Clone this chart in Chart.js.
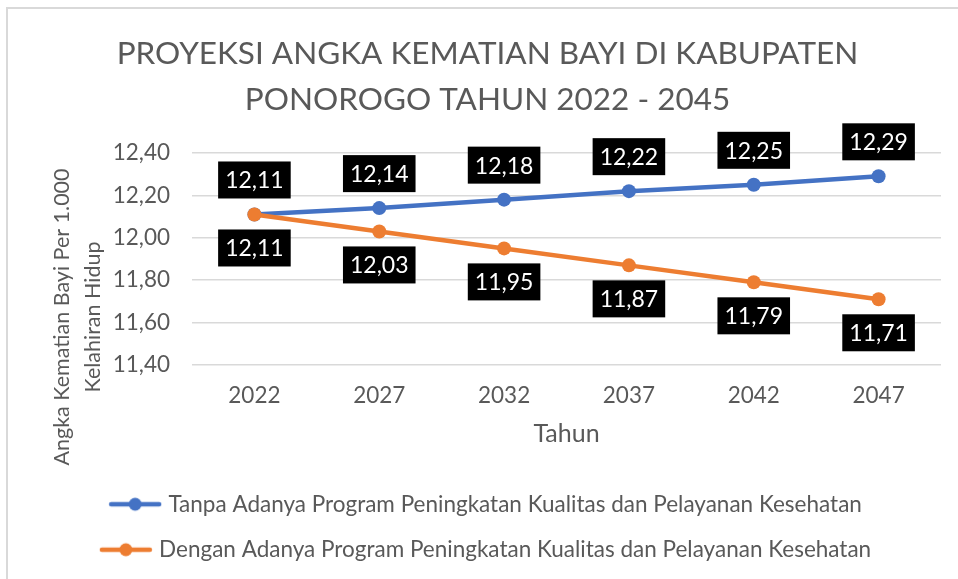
<!DOCTYPE html>
<html>
<head>
<meta charset="utf-8">
<script src="https://cdn.jsdelivr.net/npm/chart.js@4.4.1/dist/chart.umd.min.js"></script>
<style>
  html, body { margin: 0; padding: 0; background: #fff; }
  #wrap { position: relative; width: 958px; height: 579px; overflow: hidden; }
  #frame { position: absolute; left: 6px; top: 7px; width: 980px; height: 600px;
           border-left: 2px solid #d9d9d9; border-top: 2px solid #d9d9d9; pointer-events: none; }
</style>
</head>
<body>
<div id="wrap">
  <canvas id="chart" width="958" height="579"></canvas>
  <div id="frame"></div>
</div>
<script>
const years = ['2022', '2027', '2032', '2037', '2042', '2047'];
const tanpaProgram = [12.11, 12.14, 12.18, 12.22, 12.25, 12.29];
const denganProgram = [12.11, 12.03, 11.95, 11.87, 11.79, 11.71];
const seriesNames = [
  'Tanpa Adanya Program Peningkatan Kualitas dan Pelayanan Kesehatan',
  'Dengan Adanya Program Peningkatan Kualitas dan Pelayanan Kesehatan'
];
const titleLines = ['PROYEKSI ANGKA KEMATIAN BAYI DI KABUPATEN', 'PONOROGO TAHUN 2022 - 2045'];
const yTitleLines = ['Angka Kematian Bayi Per 1.000', 'Kelahiran Hidup'];
const xTitle = 'Tahun';
const yMin = 11.4, yMax = 12.4, yStep = 0.2;

const BLUE = '#4472c4', ORANGE = '#ed7d31', GREY = '#595959';
const FONT = 'Lato, "Open Sans", sans-serif';

const fmt = v => v.toFixed(2).replace('.', ',');

// legend marker drawn like excel: short line with a dot in the middle
function legendMarker(color) {
  const c = document.createElement('canvas');
  c.width = 54; c.height = 16;
  const g = c.getContext('2d');
  g.strokeStyle = color; g.lineWidth = 4.5; g.lineCap = 'round';
  g.beginPath(); g.moveTo(3, 8); g.lineTo(51, 8); g.stroke();
  g.fillStyle = color;
  g.beginPath(); g.arc(27, 8, 6.5, 0, Math.PI * 2); g.fill();
  return c;
}
const markers = [legendMarker(BLUE), legendMarker(ORANGE)];

// black boxes with white values, above the first series and below the second
const valueBoxes = {
  id: 'valueBoxes',
  afterDatasetsDraw(chart) {
    const ctx = chart.ctx;
    ctx.save();
    ctx.font = '23px ' + FONT;
    ctx.textAlign = 'center';
    ctx.textBaseline = 'middle';
    chart.data.datasets.forEach((ds, di) => {
      const meta = chart.getDatasetMeta(di);
      meta.data.forEach((pt, i) => {
        const text = fmt(ds.data[i]);
        const w = ctx.measureText(text).width + 14, h = 37;
        const top = di === 0 ? pt.y - 16 - h : pt.y + 15;
        ctx.fillStyle = '#000';
        ctx.fillRect(pt.x - w / 2, top, w, h);
        ctx.fillStyle = '#fff';
        ctx.fillText(text, pt.x, top + h / 2 + 1);
      });
    });
    ctx.restore();
  }
};

// y axis title sits lower than the plot middle in the original, so draw it here
const yAxisTitle = {
  id: 'yAxisTitle',
  afterDraw(chart) {
    const { ctx, chartArea } = chart;
    ctx.save();
    ctx.translate(chartArea.left - 130, chartArea.bottom - 48);
    ctx.rotate(-Math.PI / 2);
    ctx.font = '21.5px ' + FONT;
    ctx.fillStyle = GREY;
    ctx.textAlign = 'center';
    ctx.textBaseline = 'middle';
    yTitleLines.forEach((line, i) => ctx.fillText(line, 0, i * 31));
    ctx.restore();
  }
};

new Chart(document.getElementById('chart'), {
  type: 'line',
  data: {
    labels: years,
    datasets: [
      { label: seriesNames[0], data: tanpaProgram, borderColor: BLUE, backgroundColor: BLUE, order: 1 },
      { label: seriesNames[1], data: denganProgram, borderColor: ORANGE, backgroundColor: ORANGE, order: 0 }
    ]
  },
  options: {
    responsive: false,
    animation: false,
    layout: { padding: { left: 34, right: 17, top: 0, bottom: 8 } },
    elements: {
      line: { borderWidth: 4.5, tension: 0 },
      point: { radius: 7, hoverRadius: 7, borderWidth: 0 }
    },
    plugins: {
      title: {
        display: true,
        text: titleLines,
        color: GREY,
        font: { family: FONT, size: 31.5, weight: 'normal', lineHeight: 46 / 31.5 },
        padding: { top: 31, bottom: 30 }
      },
      legend: {
        position: 'bottom',
        align: 'center',
        labels: {
          color: GREY,
          font: { family: FONT, size: 22.5 },
          padding: 23,
          usePointStyle: true,
          pointStyleWidth: 44,
          sort: (a, b) => a.datasetIndex - b.datasetIndex,
          generateLabels: chart => Chart.defaults.plugins.legend.labels.generateLabels(chart)
            .map(item => ({ ...item, pointStyle: markers[item.datasetIndex] }))
        }
      },
      tooltip: { enabled: false }
    },
    scales: {
      x: {
        offset: true,
        grid: { display: false },
        border: { display: false },
        ticks: { color: GREY, font: { family: FONT, size: 22.5 }, padding: 9 },
        title: { display: true, text: xTitle, color: GREY, font: { family: FONT, size: 25 }, padding: { top: 0, bottom: 21 } },
        afterFit: s => { s.height = 105; }
      },
      y: {
        min: yMin,
        max: yMax,
        ticks: { stepSize: yStep, color: GREY, font: { family: FONT, size: 22.5 }, padding: 22, callback: v => fmt(v) },
        grid: { color: '#d9d9d9', lineWidth: 1.5, drawTicks: false },
        border: { display: false },
        afterFit: s => { s.width = 158; }
      }
    }
  },
  plugins: [valueBoxes, yAxisTitle]
});
</script>
</body>
</html>
